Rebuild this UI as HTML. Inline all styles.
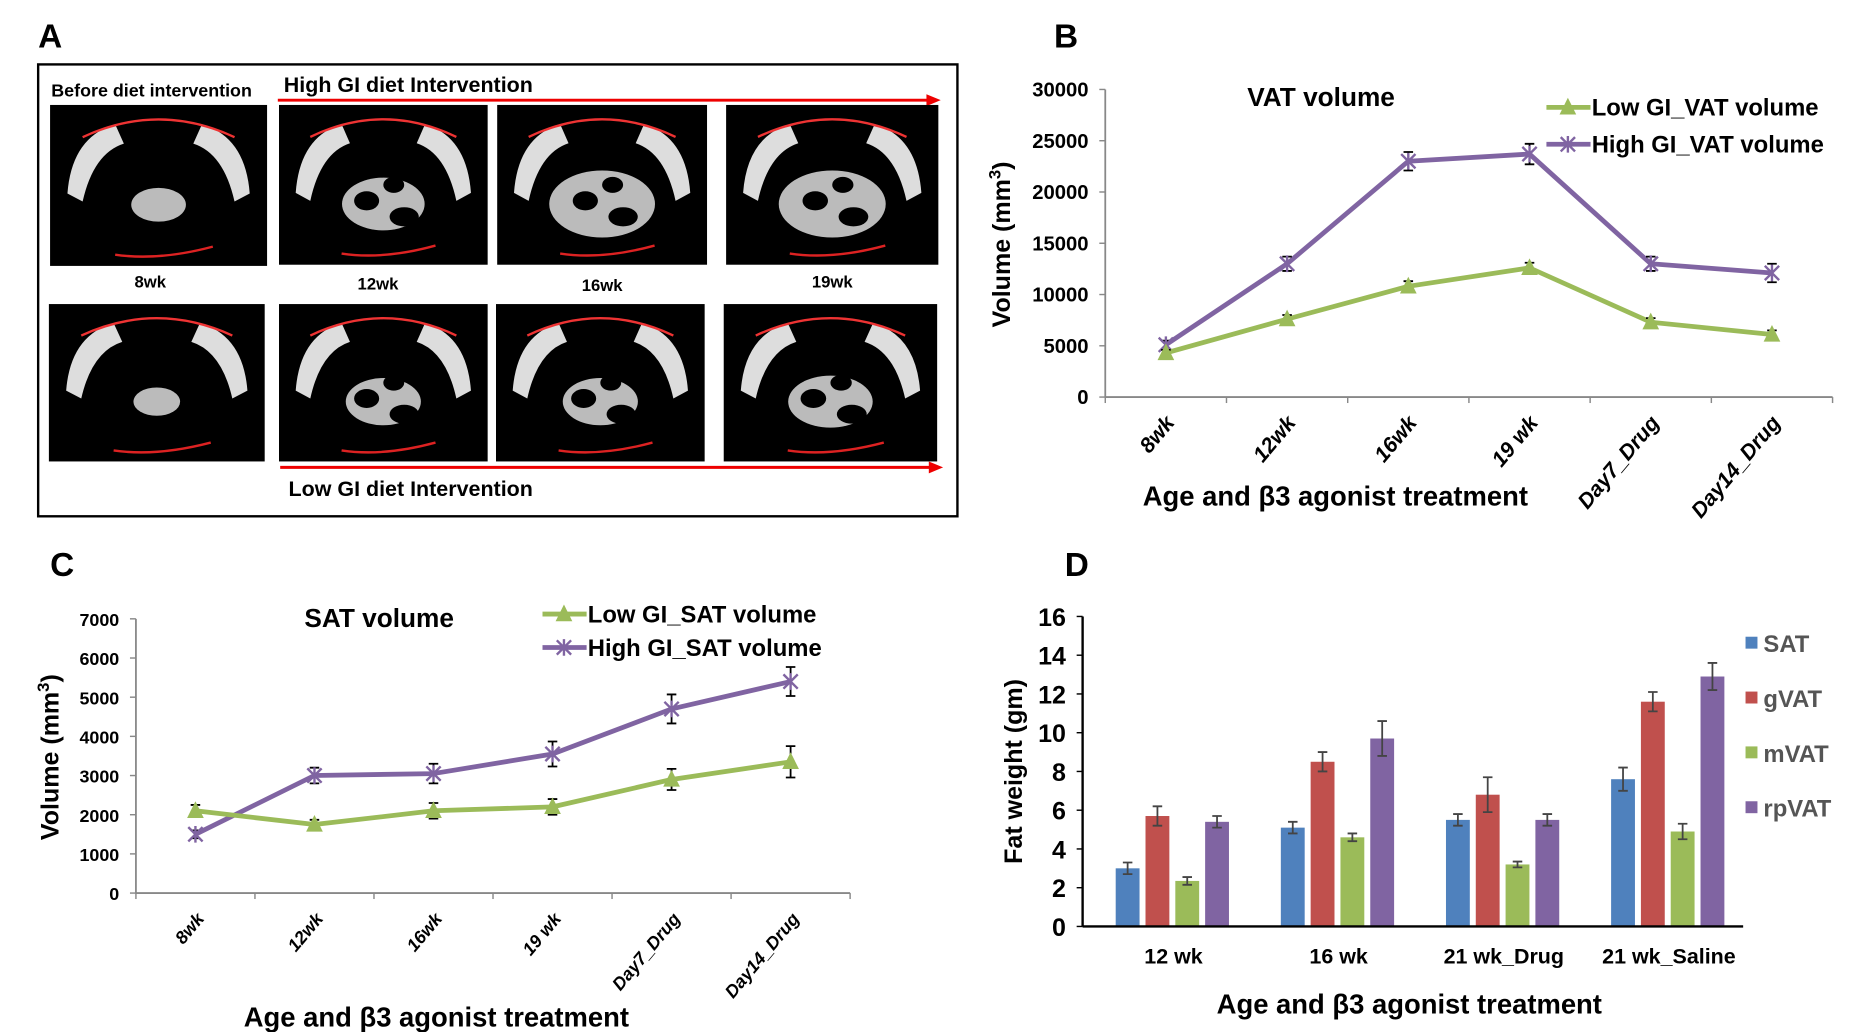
<!DOCTYPE html>
<html><head><meta charset="utf-8"><style>
html,body{margin:0;padding:0;background:#fff;}
svg{display:block;font-family:"Liberation Sans",Arial,sans-serif;}
</style></head><body>
<svg id="fig" width="1860" height="1032" viewBox="0 0 1560 865.5" xmlns="http://www.w3.org/2000/svg">
<g id="panelA">
<text x="32" y="40" font-size="28" font-weight="bold">A</text>
<rect x="32" y="54" width="771" height="379" fill="none" stroke="#000" stroke-width="2"/>
<text x="43" y="81" font-size="15" font-weight="bold">Before diet intervention</text>
<text x="238" y="77" font-size="18" font-weight="bold">High GI diet Intervention</text>
<line x1="233" y1="84" x2="780" y2="84" stroke="#e00" stroke-width="2.5"/>
<polygon points="789,84 777,79 777,89" fill="#e00"/>
<line x1="235" y1="392" x2="782" y2="392" stroke="#e00" stroke-width="2.5"/>
<polygon points="791,392 779,387 779,397" fill="#e00"/>
<text x="242" y="416" font-size="18" font-weight="bold">Low GI diet Intervention</text>
<text x="126" y="241" font-size="14" font-weight="bold" text-anchor="middle">8wk</text>
<text x="317" y="243" font-size="14" font-weight="bold" text-anchor="middle">12wk</text>
<text x="505" y="244" font-size="14" font-weight="bold" text-anchor="middle">16wk</text>
<text x="698" y="241" font-size="14" font-weight="bold" text-anchor="middle">19wk</text>
</g>
<g id="panelB"></g>
<g id="panelC"></g>
<g id="panelD"></g>
</svg>
<script>
// ---- Panel B data ----
const vatCategories = ["8wk","12wk","16wk","19 wk","Day7_Drug","Day14_Drug"];
const vatLow = [4300, 7600, 10800, 12600, 7300, 6100];
const vatLowErr = [300, 400, 500, 500, 400, 400];
const vatHigh = [5100, 13000, 23000, 23700, 13000, 12100];
const vatHighErr = [400, 700, 900, 1000, 700, 900];
const vatTicks = [0,5000,10000,15000,20000,25000,30000];
// ---- Panel C data ----
const satCategories = ["8wk","12wk","16wk","19 wk","Day7_Drug","Day14_Drug"];
const satLow = [2100, 1750, 2100, 2200, 2900, 3350];
const satLowErr = [150, 120, 200, 200, 270, 400];
const satHigh = [1500, 3000, 3050, 3550, 4700, 5400];
const satHighErr = [100, 200, 250, 320, 370, 370];
const satTicks = [0,1000,2000,3000,4000,5000,6000,7000];
// ---- Panel D data ----
const fatGroups = ["12 wk","16 wk","21 wk_Drug","21 wk_Saline"];
const fatSeries = ["SAT","gVAT","mVAT","rpVAT"];
const fatSAT = [3.0, 5.1, 5.5, 7.6];
const fatgVAT = [5.7, 8.5, 6.8, 11.6];
const fatmVAT = [2.35, 4.6, 3.2, 4.9];
const fatrpVAT = [5.4, 9.7, 5.5, 12.9];
const fatSATErr = [0.3, 0.3, 0.3, 0.6];
const fatgVATErr = [0.5, 0.5, 0.9, 0.5];
const fatmVATErr = [0.2, 0.2, 0.15, 0.4];
const fatrpVATErr = [0.3, 0.9, 0.3, 0.7];
const fatTicks = [0,2,4,6,8,10,12,14,16];

const NS="http://www.w3.org/2000/svg";
function mk(parent,tag,attrs,text){const e=document.createElementNS(NS,tag);for(const k in attrs)e.setAttribute(k,attrs[k]);if(text!==undefined)e.textContent=text;parent.appendChild(e);return e;}
const GREEN="#9BBB59",PURPLE="#8064A2";

// ---- MRI images (decorative) ----
const A=document.getElementById('panelA');
const imgs=[[42,88,182,135],[234,88,175,134],[417,88,176,134],[609,88,178,134],[41,255,181,132],[234,255,175,132],[416,255,175,132],[607,255,179,132]];
const fill=[0.35,0.55,0.7,0.7,0.3,0.5,0.5,0.55];
imgs.forEach((r,i)=>{
  const [x,y,w,h]=r;
  const g=mk(A,'g',{});
  
  
  mk(g,'rect',{x:x,y:y,width:w,height:h,fill:'#000'});
  const f=fill[i];
  mk(g,'path',{d:`M${x+w*0.08} ${y+h*0.55} Q${x+w*0.1} ${y+h*0.2} ${x+w*0.3} ${y+h*0.12} L${x+w*0.34} ${y+h*0.24} Q${x+w*0.2} ${y+h*0.3} ${x+w*0.15} ${y+h*0.6} Z`,fill:'#ddd'});
  mk(g,'path',{d:`M${x+w*0.92} ${y+h*0.55} Q${x+w*0.9} ${y+h*0.2} ${x+w*0.7} ${y+h*0.12} L${x+w*0.66} ${y+h*0.24} Q${x+w*0.8} ${y+h*0.3} ${x+w*0.85} ${y+h*0.6} Z`,fill:'#ddd'});
  mk(g,'ellipse',{cx:x+w*0.5,cy:y+h*0.62,rx:w*0.36*f,ry:h*0.3*f,fill:'#bbb'});
  if(f>0.45){mk(g,'ellipse',{cx:x+w*0.42,cy:y+h*0.6,rx:w*0.06,ry:h*0.06,fill:'#000'});mk(g,'ellipse',{cx:x+w*0.6,cy:y+h*0.7,rx:w*0.07,ry:h*0.06,fill:'#000'});mk(g,'ellipse',{cx:x+w*0.55,cy:y+h*0.5,rx:w*0.05,ry:h*0.05,fill:'#000'});}
  mk(g,'path',{d:`M${x+w*0.15} ${y+h*0.2} Q${x+w*0.5} ${y-h*0.02} ${x+w*0.85} ${y+h*0.2}`,fill:'none',stroke:'#e33',"stroke-width":2});
  mk(g,'path',{d:`M${x+w*0.3} ${y+h*0.93} Q${x+w*0.5} ${y+h*0.97} ${x+w*0.75} ${y+h*0.88}`,fill:'none',stroke:'#d22',"stroke-width":2});
});

function lineChart(gid,o){
  const G=document.getElementById(gid);
  const {x0,x1,y0,y1,max,ticks,cats,low,lowErr,high,highErr}=o;
  const ys=v=>y0-(v/max)*(y0-y1);
  const bw=(x1-x0)/cats.length;
  const xs=i=>x0+(i+0.5)*bw;
  const ax=mk(G,'line',{x1:x0,y1:y0,x2:x1,y2:y0,stroke:'#888',"stroke-width":1.5});
  
  const ay=mk(G,'line',{x1:x0,y1:y0,x2:x0,y2:y1,stroke:'#888',"stroke-width":1.5});
  
  ticks.forEach(t=>{
    mk(G,'line',{x1:x0-5,y1:ys(t),x2:x0,y2:ys(t),stroke:'#888',"stroke-width":1.2});
    const tl=mk(G,'text',{x:x0-14,y:ys(t)+6,"font-size":o.tfs,"font-weight":"bold","text-anchor":"end"},t);
    
  });
  for(let i=0;i<=cats.length;i++) mk(G,'line',{x1:x0+i*bw,y1:y0,x2:x0+i*bw,y2:y0+5,stroke:'#888',"stroke-width":1.2});
  cats.forEach((c,i)=>{
    const tx=xs(i)+8,ty=y0+22;
    const t=mk(G,'text',{x:tx,y:ty,"font-size":o.cfs,"font-weight":"bold","font-style":"italic","text-anchor":"end",transform:`rotate(-50 ${tx} ${ty})`},c);
    
  });
  function series(vals,errs,color,name,marker){
    const pts=vals.map((v,i)=>xs(i)+','+ys(v)).join(' ');
    const pl=mk(G,'polyline',{points:pts,fill:'none',stroke:color,"stroke-width":4,"stroke-linejoin":"round"});
    
    vals.forEach((v,i)=>{
      const x=xs(i),yt=ys(v+errs[i]),yb=ys(v-errs[i]);
      const eb=mk(G,'path',{d:`M${x} ${yt}V${yb}M${x-4} ${yt}H${x+4}M${x-4} ${yb}H${x+4}`,stroke:'#000',"stroke-width":1.5,fill:'none'});
      
      let m;
      if(marker==='tri') m=mk(G,'polygon',{points:`${x},${ys(v)-8} ${x-7},${ys(v)+6} ${x+7},${ys(v)+6}`,fill:color});
      else m=mk(G,'path',{d:`M${x-6} ${ys(v)-6}L${x+6} ${ys(v)+6}M${x-6} ${ys(v)+6}L${x+6} ${ys(v)-6}M${x} ${ys(v)-7}V${ys(v)+7}`,stroke:color,"stroke-width":2});
      
    });
  }
  series(high,highErr,PURPLE,'high-gi','x');
  series(low,lowErr,GREEN,'low-gi','tri');
  // legend
  [[o.legLow,GREEN,'tri',o.lowName],[o.legHigh,PURPLE,'x',o.highName]].forEach(([p,col,mkr,label])=>{
    const [lx,ly]=p;
    const lg=mk(G,'g',{});
    
    mk(lg,'line',{x1:lx,y1:ly,x2:lx+37,y2:ly,stroke:col,"stroke-width":4});
    if(mkr==='tri') mk(lg,'polygon',{points:`${lx+18},${ly-8} ${lx+11},${ly+6} ${lx+25},${ly+6}`,fill:col});
    else mk(lg,'path',{d:`M${lx+12} ${ly-6}L${lx+24} ${ly+6}M${lx+12} ${ly+6}L${lx+24} ${ly-6}M${lx+18} ${ly-7}V${ly+7}`,stroke:col,"stroke-width":2});
    mk(lg,'text',{x:lx+38,y:ly+7,"font-size":o.lfs,"font-weight":"bold"},label);
  });
}

// Panel B
(function(){
  const G=document.getElementById('panelB');
  const l=mk(G,'text',{x:884,y:40,"font-size":28,"font-weight":"bold"},'B');
  const t=mk(G,'text',{x:1108,y:89,"font-size":22,"font-weight":"bold","text-anchor":"middle"},'VAT volume');
  const yt=mk(G,'text',{x:0,y:0,"font-size":21,"font-weight":"bold","text-anchor":"middle",transform:'translate(847 205) rotate(-90)'});
  
  yt.innerHTML='Volume (mm<tspan font-size="14" dy="-8">3</tspan><tspan dy="8">)</tspan>';
  const xt=mk(G,'text',{x:1120,y:424,"font-size":23,"font-weight":"bold","text-anchor":"middle"},'Age and β3 agonist treatment');
})();
lineChart('panelB',{x0:927,x1:1537,y0:333,y1:75,max:30000,ticks:vatTicks,cats:vatCategories,low:vatLow,lowErr:vatLowErr,high:vatHigh,highErr:vatHighErr,tfs:17,cfs:18,legLow:[1297,90],legHigh:[1297,121],lfs:20,lowName:'Low GI_VAT volume',highName:'High GI_VAT volume'});

// Panel C
(function(){
  const G=document.getElementById('panelC');
  const l=mk(G,'text',{x:42,y:483,"font-size":28,"font-weight":"bold"},'C');
  const t=mk(G,'text',{x:318,y:526,"font-size":22,"font-weight":"bold","text-anchor":"middle"},'SAT volume');
  const yt=mk(G,'text',{x:0,y:0,"font-size":21,"font-weight":"bold","text-anchor":"middle",transform:'translate(49 635) rotate(-90)'});
  
  yt.innerHTML='Volume (mm<tspan font-size="14" dy="-8">3</tspan><tspan dy="8">)</tspan>';
  const xt=mk(G,'text',{x:366,y:861,"font-size":23,"font-weight":"bold","text-anchor":"middle"},'Age and β3 agonist treatment');
})();
lineChart('panelC',{x0:114,x1:713,y0:749,y1:519,max:7000,ticks:satTicks,cats:satCategories,low:satLow,lowErr:satLowErr,high:satHigh,highErr:satHighErr,tfs:15,cfs:15,legLow:[455,515],legHigh:[455,543],lfs:20,lowName:'Low GI_SAT volume',highName:'High GI_SAT volume'});

// Panel D
(function(){
  const G=document.getElementById('panelD');
  const x0=908,x1=1462,y0=777,y1=517,max=16;
  const ys=v=>y0-(v/max)*(y0-y1);
  const bw=(x1-x0)/fatGroups.length;
  const gc=i=>x0+(i+0.5)*bw+6;
  const colors=["#4F81BD","#C0504D","#9BBB59","#8064A2"];
  const vals=[fatSAT,fatgVAT,fatmVAT,fatrpVAT];
  const errs=[fatSATErr,fatgVATErr,fatmVATErr,fatrpVATErr];
  const l=mk(G,'text',{x:893,y:483,"font-size":28,"font-weight":"bold"},'D');
  fatTicks.forEach(t=>{
    mk(G,'line',{x1:x0-5,y1:ys(t),x2:x0,y2:ys(t),stroke:'#000',"stroke-width":1.2});
    const tl=mk(G,'text',{x:x0-14,y:ys(t)+8,"font-size":21,"font-weight":"bold","text-anchor":"end"},t);
    
  });
  vals.forEach((arr,s)=>{
    arr.forEach((v,i)=>{
      const cx=gc(i)+(s-1.5)*25;
      const b=mk(G,'rect',{x:cx-10,y:ys(v),width:20,height:y0-ys(v),fill:colors[s]});
      
      const e=errs[s][i],yt=ys(v+e),yb=ys(v-e);
      const eb=mk(G,'path',{d:`M${cx} ${yt}V${yb}M${cx-4} ${yt}H${cx+4}M${cx-4} ${yb}H${cx+4}`,stroke:'#444',"stroke-width":1.5,fill:'none'});
      
    });
  });
  const ax=mk(G,'line',{x1:x0,y1:y0,x2:x1,y2:y0,stroke:'#000',"stroke-width":2});
  const ay=mk(G,'line',{x1:x0,y1:y0,x2:x0,y2:y1,stroke:'#000',"stroke-width":2});
  fatGroups.forEach((g,i)=>{
    const t=mk(G,'text',{x:gc(i)+1,y:808,"font-size":18,"font-weight":"bold","text-anchor":"middle"},g);
    
  });
  fatSeries.forEach((s,k)=>{
    const ly=540+k*46;
    const lg=mk(G,'g',{});
    
    mk(lg,'rect',{x:1464,y:ly-6,width:10,height:10,fill:colors[k]});
    mk(lg,'text',{x:1479,y:ly+7,"font-size":20,"font-weight":"bold",fill:'#555'},s);
  });
  const yt=mk(G,'text',{x:0,y:0,"font-size":21,"font-weight":"bold","text-anchor":"middle",transform:'translate(857 647) rotate(-90)'},'Fat weight (gm)');
  
  const xt=mk(G,'text',{x:1182,y:850,"font-size":23,"font-weight":"bold","text-anchor":"middle"},'Age  and β3 agonist treatment');
  
})();
</script>
</body></html>
